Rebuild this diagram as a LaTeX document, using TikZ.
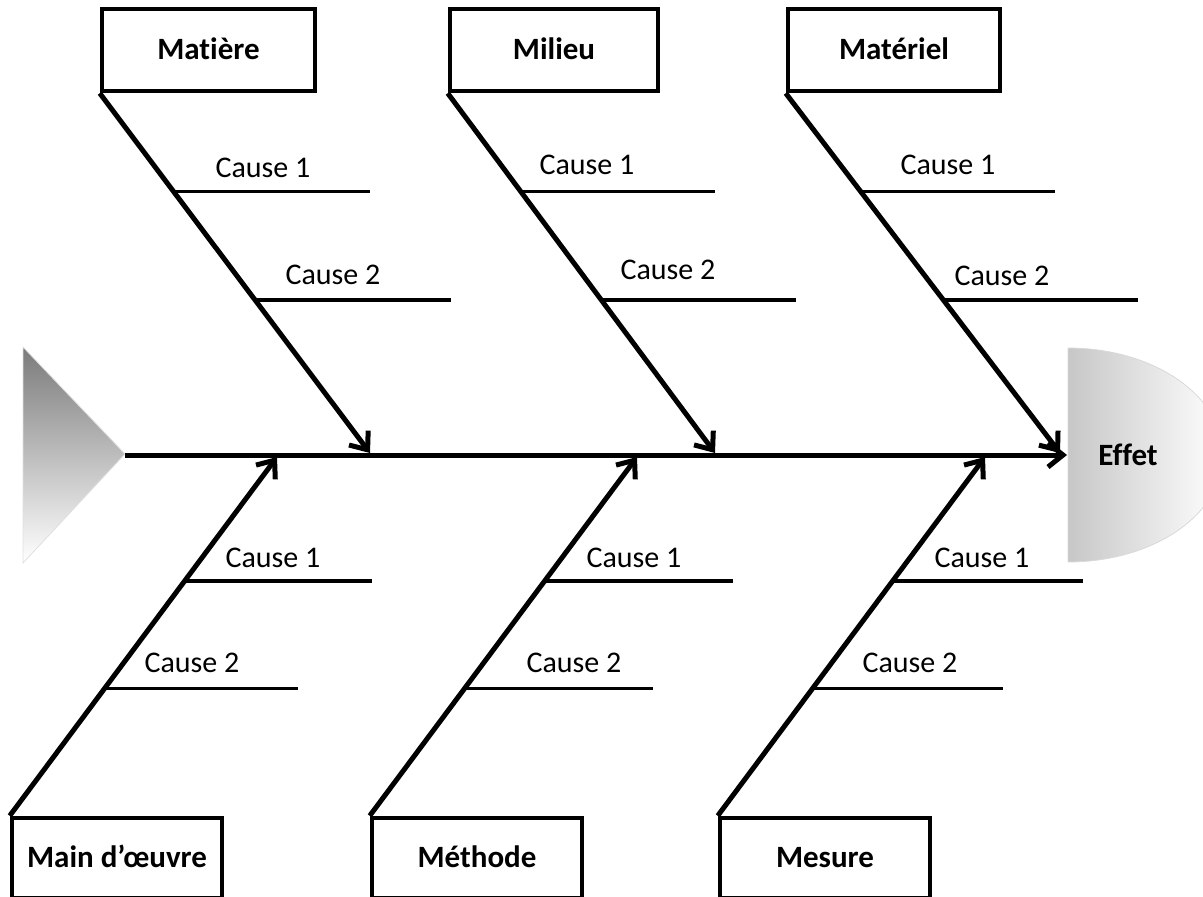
\documentclass[tikz,border=0pt]{standalone}
\usepackage{fontspec}
\setmainfont{Carlito}[Ligatures=NoCommon]
\usetikzlibrary{arrows.meta,calc}
\begin{document}
\begin{tikzpicture}[x=1pt,y=-1pt,
  box/.style={draw, line width=4.5pt, minimum height=82pt, inner sep=0pt,
    text height=21pt, text depth=2pt,
    font=\fontsize{31}{37}\selectfont\bfseries},
  bone/.style={line width=5pt, -{Straight Barb[length=15pt,width=24pt]}},
  cause/.style={line width=3.5pt},
  lbl/.style={inner sep=0pt, font=\fontsize{30}{36}\selectfont}]
\useasboundingbox (0,0) rectangle (1203,897);
% tail
\shade[top color=black!52, bottom color=white, draw=black!12, line width=0.8pt]
  (23,347) -- (125,454) -- (23,563) -- cycle;
% effect head
\shade[left color=black!22, right color=white, draw=black!15, line width=0.8pt]
  (1068,562) arc[start angle=-90, end angle=90, x radius=155pt, y radius=107pt] -- cycle;
\node[inner sep=0pt, font=\fontsize{31}{37}\selectfont\bfseries] (effet) at (1128,455) {Effet};
\coordinate (tail) at (125,455);
\coordinate (head) at (1067,455);
\draw[bone] (tail) -- (head);
% boxes
\node[box, minimum width=213pt] (matiere) at (208.5,50) {Matière};
\node[box, minimum width=208pt] (milieu) at (554,50) {Milieu};
\node[box, minimum width=212pt] (materiel) at (894,50) {Matériel};
\node[box, minimum width=210pt, minimum height=80pt] (main) at (117,858) {Main d’œuvre};
\node[box, minimum width=210pt, minimum height=80pt] (methode) at (477,858) {Méthode};
\node[box, minimum width=210pt, minimum height=80pt] (mesure) at (825,858) {Mesure};
% bone tips
\coordinate (t1) at (370,453);
\coordinate (t2) at (715,453);
\coordinate (t3) at (1060,453);
\coordinate (b1) at (277,457);
\coordinate (b2) at (637,457);
\coordinate (b3) at (985,457);
\draw[bone] (matiere.south west) -- (t1);
\draw[bone] (milieu.south west) -- (t2);
\draw[bone] (materiel.south west) -- (t3);
\draw[bone] (main.north west) -- (b1);
\draw[bone] (methode.north west) -- (b2);
\draw[bone] (mesure.north west) -- (b3);
% cause lines (top)
\draw[cause] ($(matiere.south west)!0.2735!(t1)$) -- ++(196,0);
\draw[cause] ($(matiere.south west)!0.5746!(t1)$) -- ++(196,0);
\draw[cause] ($(milieu.south west)!0.2735!(t2)$) -- ++(194,0);
\draw[cause] ($(milieu.south west)!0.5746!(t2)$) -- ++(195,0);
\draw[cause] ($(materiel.south west)!0.2735!(t3)$) -- ++(194,0);
\draw[cause] ($(materiel.south west)!0.5746!(t3)$) -- ++(195,0);
% cause lines (bottom)
\draw[cause] ($(main.north west)!0.654!(b1)$) -- ++(187,0);
\draw[cause] ($(main.north west)!0.3546!(b1)$) -- ++(193,0);
\draw[cause] ($(methode.north west)!0.654!(b2)$) -- ++(188,0);
\draw[cause] ($(methode.north west)!0.3546!(b2)$) -- ++(188,0);
\draw[cause] ($(mesure.north west)!0.654!(b3)$) -- ++(190,0);
\draw[cause] ($(mesure.north west)!0.3546!(b3)$) -- ++(190,0);
% labels
\node[lbl] (l1) at (263,168) {Cause 1};
\node[lbl] (l2) at (333,275) {Cause 2};
\node[lbl] (l3) at (587,165) {Cause 1};
\node[lbl] (l4) at (668,270) {Cause 2};
\node[lbl] (l5) at (948,165) {Cause 1};
\node[lbl] (l6) at (1002,276) {Cause 2};
\node[lbl] (l7) at (273,558) {Cause 1};
\node[lbl] (l8) at (192,663) {Cause 2};
\node[lbl] (l9) at (634,558) {Cause 1};
\node[lbl] (l10) at (574,663) {Cause 2};
\node[lbl] (l11) at (982,558) {Cause 1};
\node[lbl] (l12) at (910,663) {Cause 2};
\end{tikzpicture}
\end{document}
